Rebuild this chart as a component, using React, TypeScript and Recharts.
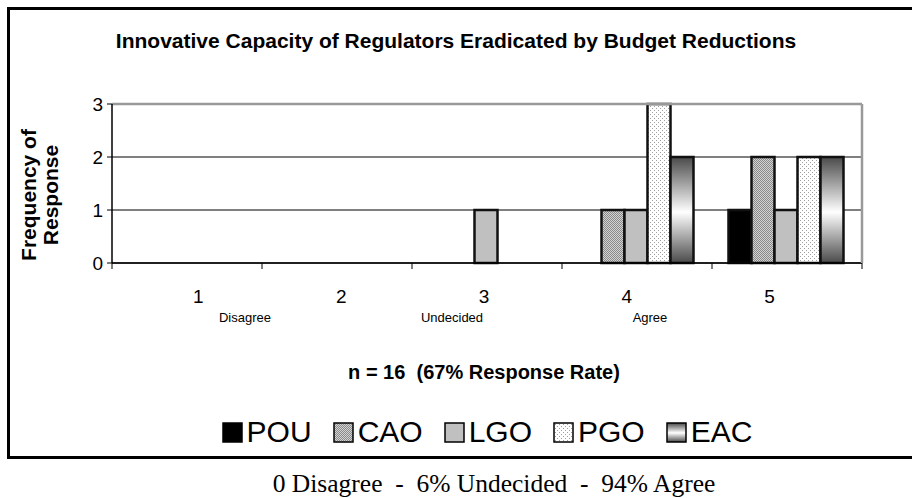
import React from "react";
import {
  Bar,
  BarChart,
  CartesianGrid,
  Legend,
  ReferenceLine,
  XAxis,
  YAxis,
} from "recharts";

// Likert scale position (1 = disagree ... 5 = agree)
const categories = ["1", "2", "3", "4", "5"];
const scaleNotes = ["Disagree", "Undecided", "Agree"];
const yTicks = [0, 1, 2, 3];

// frequency of response per group
const pou = [0, 0, 0, 0, 1];
const cao = [0, 0, 0, 1, 2];
const lgo = [0, 0, 1, 1, 1];
const pgo = [0, 0, 0, 3, 2];
const eac = [0, 0, 0, 2, 2];

const seriesNames = ["POU", "CAO", "LGO", "PGO", "EAC"];
const fills: Record<string, string> = {
  POU: "#000000",
  CAO: "url(#pat-cao)",
  LGO: "#c0c0c0",
  PGO: "url(#pat-pgo)",
  EAC: "url(#grad-eac)",
};

const data = categories.map((cat, i) => ({
  cat,
  POU: pou[i],
  CAO: cao[i],
  LGO: lgo[i],
  PGO: pgo[i],
  EAC: eac[i],
}));

const FONT = "'Liberation Sans', Arial, sans-serif";

// tick marks sit on the category boundaries, not the centres
function EdgeTick(props: any) {
  const { x, y, payload, index, visibleTicksCount } = props;
  const half = payload?.offset ?? 0;
  const last = index === (visibleTicksCount ?? categories.length) - 1;
  return (
    <g>
      <line x1={x - half} x2={x - half} y1={y} y2={y + 6} stroke="#000" />
      {last && <line x1={x + half} x2={x + half} y1={y} y2={y + 6} stroke="#000" />}
    </g>
  );
}

function LegendRow() {
  return (
    <div
      style={{
        display: "flex",
        justifyContent: "center",
        alignItems: "center",
        paddingLeft: 62,
        fontFamily: FONT,
        fontSize: 30,
        color: "#000",
      }}
    >
      {seriesNames.map((name, i) => (
        <div
          key={name}
          style={{ display: "flex", alignItems: "center", marginRight: i < seriesNames.length - 1 ? 21 : 0 }}
        >
          <svg width={21} height={21} style={{ marginRight: 4 }}>
            <rect x={1} y={1} width={19} height={19} fill={fills[name]} stroke="#000" strokeWidth={1.5} />
          </svg>
          <span>{name}</span>
        </div>
      ))}
    </div>
  );
}

export default function App() {
  return (
    <div
      style={{
        position: "absolute",
        left: 0,
        top: 0,
        width: 912,
        height: 498,
        overflow: "hidden",
        background: "#fff",
        fontFamily: FONT,
      }}
    >
      <div
        style={{
          position: "absolute",
          left: 7,
          top: 7,
          width: 930,
          height: 452,
          border: "3px solid #000",
          boxSizing: "border-box",
        }}
      />
      <div
        style={{
          position: "absolute",
          left: 0,
          top: 29,
          width: 912,
          textAlign: "center",
          fontWeight: "bold",
          fontSize: 21,
        }}
      >
        Innovative Capacity of Regulators Eradicated by Budget Reductions
      </div>

      <div style={{ position: "absolute", left: 0, top: 0 }}>
        <BarChart
          width={912}
          height={498}
          data={data}
          margin={{ top: 104, right: 49, left: 72, bottom: 233 }}
          barCategoryGap="11%"
          barGap={0}
        >
          <defs>
            <pattern id="pat-cao" width={2} height={2} patternUnits="userSpaceOnUse">
              <rect width={2} height={2} fill="#d4d4d4" />
              <rect width={1} height={1} fill="#888888" />
              <rect x={1} y={1} width={1} height={1} fill="#888888" />
            </pattern>
            <pattern id="pat-pgo" width={4} height={4} patternUnits="userSpaceOnUse">
              <rect width={4} height={4} fill="#ffffff" />
              <rect width={1} height={1} fill="#a0a0a0" />
              <rect x={2} y={2} width={1} height={1} fill="#a0a0a0" />
            </pattern>
            <linearGradient id="grad-eac" x1="0" y1="0" x2="0" y2="1">
              <stop offset="0%" stopColor="#4a4a4a" />
              <stop offset="52%" stopColor="#ffffff" />
              <stop offset="100%" stopColor="#4a4a4a" />
            </linearGradient>
          </defs>
          <CartesianGrid xAxisId="cat" vertical={false} stroke="#000" strokeWidth={1} />
          <ReferenceLine xAxisId="cat" y={3} stroke="#999" strokeWidth={2.5} />
          <XAxis
            xAxisId="cat"
            dataKey="cat"
            height={1}
            axisLine={{ stroke: "#000", strokeWidth: 1.5 }}
            tickLine={false}
            tickSize={0}
            tickMargin={0}
            tick={<EdgeTick />}
            interval={0}
          />
          <XAxis
            xAxisId="lab"
            dataKey="cat"
            height={1}
            padding={{ left: 15, right: 21 }}
            axisLine={false}
            tickLine={false}
            tickSize={0}
            tickMargin={26}
            tick={{ fill: "#000", fontSize: 19, fontFamily: FONT }}
          />
          <YAxis
            domain={[0, 3]}
            ticks={yTicks}
            width={40}
            axisLine={{ stroke: "#000", strokeWidth: 1.5 }}
            tickLine={{ stroke: "#000" }}
            tickSize={5}
            tickMargin={4}
            tick={{ fill: "#000", fontSize: 19, fontFamily: FONT }}
          />
          <YAxis
            yAxisId="frame"
            orientation="right"
            domain={[0, 3]}
            width={1}
            axisLine={{ stroke: "#999", strokeWidth: 2.5 }}
            tickLine={false}
            tick={false}
          />
          <Legend
            layout="horizontal"
            verticalAlign="middle"
            align="center"
            wrapperStyle={{ top: 415, left: 0, width: 912 }}
            content={() => <LegendRow />}
          />
          {seriesNames.map((name) => (
            <Bar
              key={name}
              xAxisId="cat"
              dataKey={name}
              name={name}
              fill={fills[name]}
              stroke="#111"
              strokeWidth={2.5}
              isAnimationActive={false}
            />
          ))}
        </BarChart>
      </div>

      <div
        style={{
          position: "absolute",
          left: -60,
          top: 173,
          width: 200,
          height: 44,
          lineHeight: "22px",
          textAlign: "center",
          fontWeight: "bold",
          fontSize: 21,
          transform: "rotate(-90deg)",
        }}
      >
        <div>Frequency of</div>
        <div>Response</div>
      </div>

      {scaleNotes.map((note, i) => (
        <div
          key={note}
          style={{
            position: "absolute",
            left: [245, 452, 650][i] - 60,
            top: 310,
            width: 120,
            textAlign: "center",
            fontSize: 13,
          }}
        >
          {note}
        </div>
      ))}

      <div
        style={{
          position: "absolute",
          left: 484 - 250,
          top: 361,
          width: 500,
          textAlign: "center",
          fontWeight: "bold",
          fontSize: 20,
          whiteSpace: "pre",
        }}
      >
        {"n = 16  (67% Response Rate)"}
      </div>

      <div
        style={{
          position: "absolute",
          left: 494 - 300,
          top: 469,
          width: 600,
          textAlign: "center",
          fontFamily: "'Liberation Serif', 'Times New Roman', serif",
          fontSize: 25.5,
          whiteSpace: "pre",
        }}
      >
        {"0 Disagree  -  6% Undecided  -  94% Agree"}
      </div>
    </div>
  );
}
